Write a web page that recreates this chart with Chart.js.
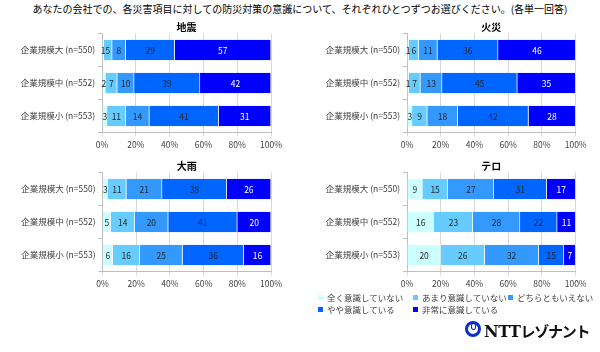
<!DOCTYPE html>
<html><head><meta charset="utf-8">
<script src="https://cdn.jsdelivr.net/npm/chart.js@4"></script>
<style>
html,body{margin:0;padding:0;background:#fff;}
body{width:600px;height:352px;position:relative;overflow:hidden;font-family:"Noto Sans CJK JP","Noto Sans",sans-serif;}
.pan{position:absolute;}
#mt{position:absolute;left:0;top:2px;width:600px;text-align:center;font-size:10px;color:#000;line-height:14px;white-space:nowrap;}
.lg{position:absolute;font-size:8.5px;color:#404040;line-height:10px;white-space:nowrap;}
.lg i{display:inline-block;width:5px;height:5px;margin-right:4px;vertical-align:1px;}
#logo{position:absolute;left:465px;top:321px;width:10px;height:10px;border:3.5px solid #0a2fc8;border-radius:50%;}
#logo b{position:absolute;left:3px;top:-1px;width:2.5px;height:4.5px;border:1.6px solid #0a2fc8;border-radius:50%;}
#lt{position:absolute;left:484px;top:319px;font-weight:bold;color:#111;line-height:22px;white-space:nowrap;}
#lt .n{font-family:"DejaVu Serif",serif;font-size:16px;letter-spacing:-0.5px;}
#lt .k{font-family:"Noto Sans CJK JP",sans-serif;font-size:15px;letter-spacing:-1.2px;}
</style></head>
<body>
<div id="mt">あなたの会社での、各災害項目に対しての防災対策の意識について、それぞれひとつずつお選びください。(各単一回答)</div>
<canvas id="c1" class="pan" width="300" height="160" style="left:0;top:0"></canvas>
<canvas id="c2" class="pan" width="300" height="160" style="left:300px;top:0"></canvas>
<canvas id="c3" class="pan" width="300" height="160" style="left:0;top:139px"></canvas>
<canvas id="c4" class="pan" width="300" height="160" style="left:300px;top:139px"></canvas>
<div class="lg" style="left:318px;top:292px"><i style="background:#ccffff"></i>全く意識していない</div>
<div class="lg" style="left:413px;top:292px"><i style="background:#66ccff"></i>あまり意識していない</div>
<div class="lg" style="left:508px;top:292px"><i style="background:#3399ff"></i>どちらともいえない</div>
<div class="lg" style="left:318px;top:304px"><i style="background:#0066ff"></i>やや意識している</div>
<div class="lg" style="left:413px;top:304px"><i style="background:#0000ff"></i>非常に意識している</div>
<div id="logo"><b></b></div>
<div id="lt"><span class="n">NTT</span><span class="k">レゾナント</span></div>
<script>
const categories = ["企業規模大 (n=550)", "企業規模中 (n=552)", "企業規模小 (n=553)"];
const seriesNames = ["全く意識していない", "あまり意識していない", "どちらともいえない", "やや意識している", "非常に意識している"];
const seriesColors = ["#ccffff", "#66ccff", "#3399ff", "#0066ff", "#0000ff"];
const xTicks = ["0%", "20%", "40%", "60%", "80%", "100%"];
const panelTitles = ["地震", "火災", "大雨", "テロ"];
// values per panel: rows = categories, columns = series
const jishin = [[1,5,8,29,57],[2,7,10,39,42],[3,11,14,41,31]];
const kasai  = [[1,6,11,36,46],[1,7,13,45,35],[3,9,18,42,28]];
const ooame  = [[3,11,21,38,26],[5,14,20,41,20],[6,16,25,36,16]];
const tero   = [[9,15,27,31,17],[16,23,28,22,11],[20,26,32,15,7]];

const FONT = '"Noto Sans CJK JP","Noto Sans",sans-serif';

const labelPlugin = {
  id:'vals',
  afterDatasetsDraw(chart){
    const ctx = chart.ctx;
    ctx.save();
    ctx.font = '8.5px ' + FONT;
    ctx.textAlign='center'; ctx.textBaseline='middle';
    chart.data.datasets.forEach((ds,di)=>{
      const meta = chart.getDatasetMeta(di);
      meta.data.forEach((el,i)=>{
        const v = ds.raw[i];
        const cx = (el.x + el.base)/2;
        ctx.fillStyle = di===4 ? '#ffffff' : '#262626';
        ctx.fillText(String(v), cx, el.y+0.5);
      });
    });
    ctx.restore();
  }
};
const titlePlugin = {
  id:'ptitle',
  afterDraw(chart, args, opts){
    const ctx = chart.ctx, a = chart.chartArea;
    ctx.save();
    ctx.font = 'bold 10px ' + FONT;
    ctx.fillStyle = '#000';
    ctx.textAlign='center'; ctx.textBaseline='middle';
    ctx.fillText(opts.text, (a.left+a.right)/2, a.top-6);
    ctx.restore();
  }
};
function make(id, rows, title, left, right){
  const datasets = seriesNames.map((n,si)=>{
    const raw = rows.map(r=>r[si]);
    const data = rows.map(r=>{const s=r.reduce((a,b)=>a+b,0); return r[si]/s*100;});
    return {label:n, raw, data, backgroundColor:seriesColors[si], borderColor:'rgba(255,255,255,0.6)', borderWidth:{left:0,right:0.6,top:0,bottom:0}, borderSkipped:false, barPercentage:0.62, categoryPercentage:1};
  });
  new Chart(document.getElementById(id), {
    type:'bar',
    data:{labels:categories, datasets},
    options:{
      indexAxis:'y', responsive:false, animation:false, devicePixelRatio:1,
      layout:{padding:{left:0,right:300-right,top:33.5,bottom:5.5}},
      plugins:{legend:{display:false}, tooltip:{enabled:false}, ptitle:{text:title}},
      scales:{
        x:{stacked:true, min:0, max:100,
           afterBuildTicks(s){ s.ticks = xTicks.map((t,i)=>({value:i*20})); },
           afterFit(s){ s.height = 22; },
           ticks:{callback:(v)=>xTicks[v/20], font:{size:8.5,family:FONT}, color:'#404040', padding:3, maxRotation:0, autoSkip:false},
           grid:{color:'#d9d9d9', lineWidth:1, tickLength:4, drawTicks:true},
           border:{color:'#bfbfbf'}},
        y:{stacked:true,
           afterFit(s){ s.width = left; },
           ticks:{font:{size:8.5,family:FONT}, color:'#404040', padding:3},
           grid:{offset:true, drawOnChartArea:false, tickLength:4, color:'#bfbfbf'},
           border:{color:'#bfbfbf'}}
      }
    },
    plugins:[labelPlugin, titlePlugin]
  });
}
make('c1', jishin, panelTitles[0], 102, 271);
make('c2', kasai,  panelTitles[1], 107, 275.7);
make('c3', ooame,  panelTitles[2], 102.5, 271);
make('c4', tero,   panelTitles[3], 107, 275.7);
</script>
</body></html>
